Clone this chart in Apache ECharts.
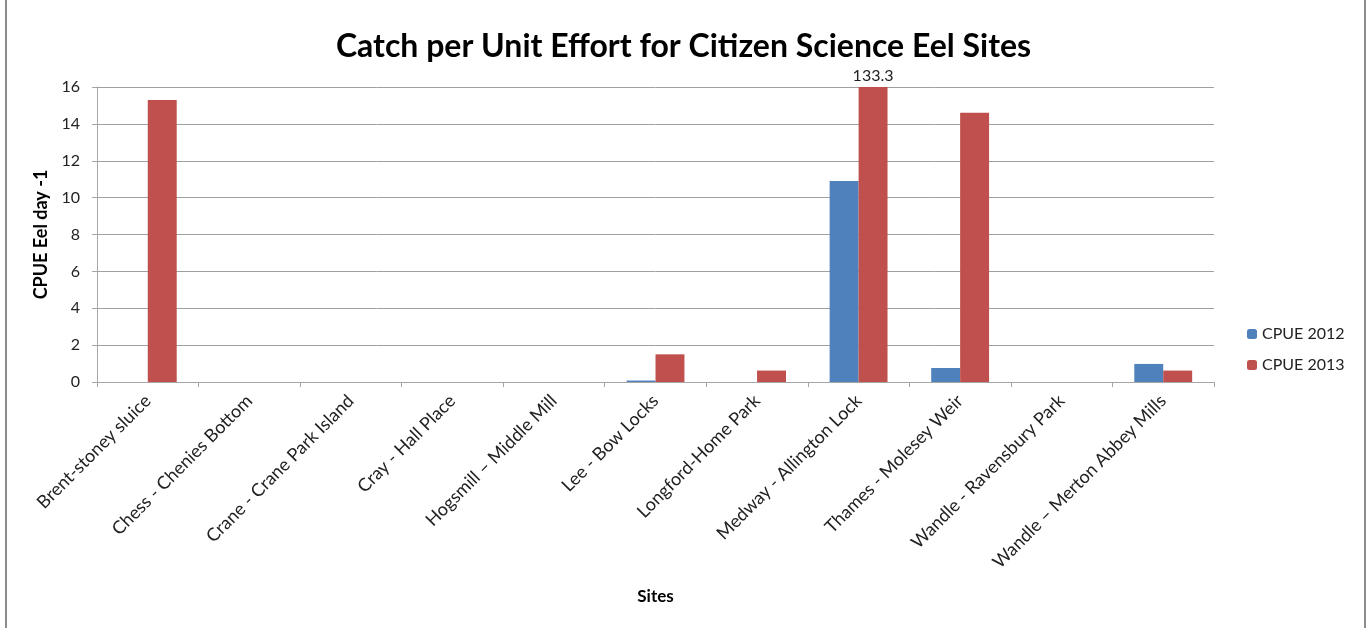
<!DOCTYPE html>
<html lang="en">
<head>
    <meta charset="UTF-8">
    <title>Catch per Unit Effort for Citizen Science Eel Sites</title>
    <script src="https://cdn.jsdelivr.net/npm/echarts@6.0.0/dist/echarts.min.js"></script>
    <style>
        * { margin: 0; padding: 0; box-sizing: border-box; }
        body { background: #fff; }
        #chart { width: 1367px; height: 628px; }
    </style>
</head>
<body>
    <div id="chart"></div>
    <script>
        const sites = [
            'Brent-stoney sluice', 'Chess - Chenies Bottom', 'Crane - Crane Park Island',
            'Cray - Hall Place', 'Hogsmill \u2013 Middle Mill', 'Lee - Bow Locks',
            'Longford-Home Park', 'Medway - Allington Lock', 'Thames - Molesey Weir',
            'Wandle - Ravensbury Park', 'Wandle \u2013 Merton Abbey Mills'
        ];
        const cpue2012 = [0, 0, 0, 0, 0, 0.08, 0, 10.9, 0.76, 0, 0.98];
        const cpue2013 = [15.3, 0, 0, 0, 0, 1.5, 0.62, 133.3, 14.6, 0, 0.62];
        const yTicks = { min: 0, max: 16, interval: 2 };

        const font = 'Lato, "Open Sans", sans-serif';
        const chart = echarts.init(document.getElementById('chart'));

        chart.setOption({
            animation: false,
            textStyle: { fontFamily: font },
            title: {
                text: 'Catch per Unit Effort for Citizen Science Eel Sites',
                left: 'center',
                top: 26,
                textStyle: { fontSize: 32, fontWeight: 'bold', color: '#000', fontFamily: font }
            },
            graphic: [{
                type: 'line',
                shape: { x1: 6, y1: 0, x2: 6, y2: 628 },
                style: { stroke: '#8c8c8c', lineWidth: 2 },
                silent: true
            }, {
                type: 'line',
                shape: { x1: 1365, y1: 0, x2: 1365, y2: 628 },
                style: { stroke: '#8c8c8c', lineWidth: 2 },
                silent: true
            }],
            legend: {
                orient: 'vertical',
                left: 1242,
                top: 321,
                itemWidth: 10,
                itemHeight: 10,
                itemGap: 15,
                textStyle: { fontSize: 16, color: '#222' },
                data: ['CPUE 2012', 'CPUE 2013']
            },
            grid: { left: 97, right: 153, top: 87, bottom: 246 },
            xAxis: {
                type: 'category',
                data: sites,
                name: 'Sites',
                nameLocation: 'middle',
                nameGap: 206,
                nameTextStyle: { fontSize: 17, fontWeight: 'bold', color: '#000' },
                axisLine: { lineStyle: { color: '#a6a6a6' } },
                axisTick: { show: true, length: 5, lineStyle: { color: '#a6a6a6' } },
                axisLabel: { interval: 0, rotate: 45, fontSize: 18, color: '#222', margin: 16 }
            },
            yAxis: {
                type: 'value',
                min: yTicks.min,
                max: yTicks.max,
                interval: yTicks.interval,
                name: 'CPUE Eel day -1',
                nameLocation: 'middle',
                nameGap: 45,
                nameTextStyle: { fontSize: 18, fontWeight: 'bold', color: '#000' },
                axisLine: { show: true, lineStyle: { color: '#a6a6a6' } },
                axisTick: { show: true, length: 5, lineStyle: { color: '#a6a6a6' } },
                axisLabel: { fontSize: 16, color: '#222', margin: 17 },
                splitLine: { lineStyle: { color: '#a0a0a0' } }
            },
            series: [{
                name: 'CPUE 2012',
                type: 'bar',
                data: cpue2012,
                barGap: '0%',
                barCategoryGap: '43%',
                itemStyle: { color: '#4f81bd' }
            }, {
                name: 'CPUE 2013',
                type: 'bar',
                data: cpue2013.map(v => v > yTicks.max
                    ? { value: v, label: { show: true, position: 'top', distance: 3, fontSize: 16, color: '#222' } }
                    : v),
                clip: true,
                itemStyle: { color: '#c0504d' }
            }]
        });
    </script>
</body>
</html>
